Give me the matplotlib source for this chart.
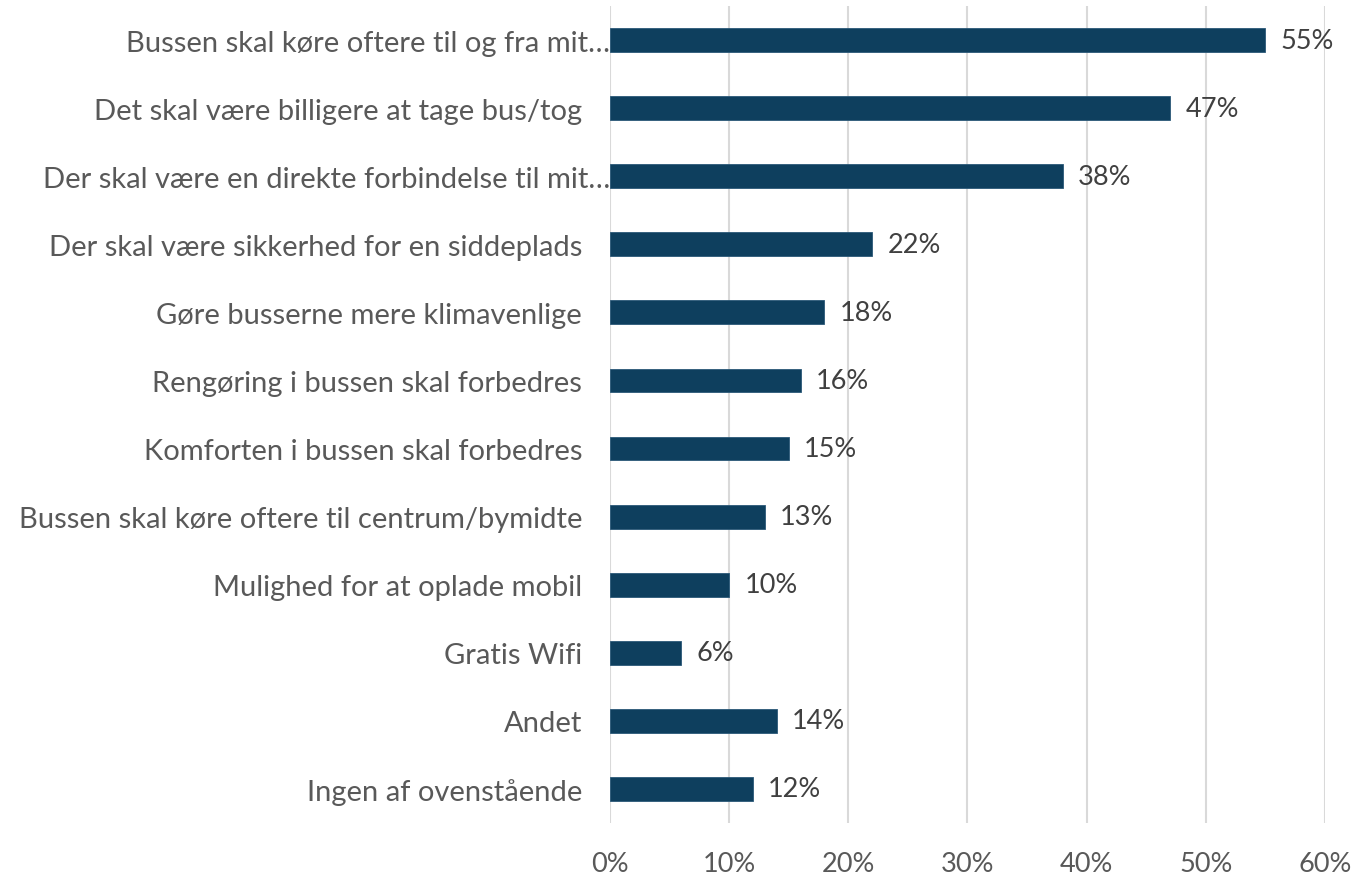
import matplotlib
matplotlib.use("Agg")
import matplotlib.pyplot as plt
from matplotlib.ticker import FuncFormatter, MultipleLocator

categories = [
    "Bussen skal køre oftere til og fra mit…",
    "Det skal være billigere at tage bus/tog",
    "Der skal være en direkte forbindelse til mit…",
    "Der skal være sikkerhed for en siddeplads",
    "Gøre busserne mere klimavenlige",
    "Rengøring i bussen skal forbedres",
    "Komforten i bussen skal forbedres",
    "Bussen skal køre oftere til centrum/bymidte",
    "Mulighed for at oplade mobil",
    "Gratis Wifi",
    "Andet",
    "Ingen af ovenstående",
]
values = [55, 47, 38, 22, 18, 16, 15, 13, 10, 6, 14, 12]
truncated = [0, 2]

plt.rcParams["font.family"] = ["Lato", "DejaVu Sans"]

fig = plt.figure(figsize=(13.53, 8.79), dpi=100)
ax = fig.add_axes([0.4508, 0.0626, 0.5285, 0.9294])

y = list(range(len(categories)))
ax.barh(y, values, height=0.35, color="#0E3F5E", edgecolor="#2a5878",
        linewidth=0.6, zorder=3)

for yi, v in zip(y, values):
    ax.annotate(f"{v}%", xy=(v, yi), xytext=(11, 0), textcoords="offset points",
                va="center", ha="left", fontsize=19.5, color="#404040")

ax.set_xlim(0, 60)
ax.set_ylim(len(categories) - 0.5, -0.5)
ax.xaxis.set_major_locator(MultipleLocator(10))
ax.xaxis.set_major_formatter(FuncFormatter(lambda x, _: f"{x:.0f}%"))
ax.grid(axis="x", color="#d9d9d9", linewidth=1.5, zorder=0)
ax.set_axisbelow(True)

ax.set_yticks(y)
ax.set_yticklabels(categories)
for s in ax.spines.values():
    s.set_visible(False)
ax.tick_params(axis="x", length=0, labelsize=19.5, labelcolor="#595959", pad=20)
ax.tick_params(axis="y", length=0, labelsize=21, labelcolor="#595959", pad=20)
for i, t in enumerate(ax.yaxis.get_major_ticks()):
    if i in truncated:
        t.set_pad(0)

fig.savefig("out.png", dpi=100)
